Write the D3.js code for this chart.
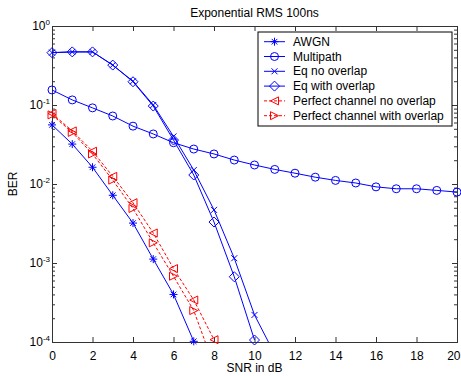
<!DOCTYPE html>
<html>
<head>
<meta charset="utf-8">
<script src="https://d3js.org/d3.v7.min.js"></script>
<style>
  body { margin: 0; background: #fff; }
  text { font-family: Arial, "Liberation Sans", sans-serif; fill: #000; }
</style>
</head>
<body>
<div id="chart"></div>
<script>

// SNR values (dB)
var snr = d3.range(0, 21);

// BER curves
var awgn = [0.056, 0.032, 0.0163, 0.0072, 0.0032, 0.00112, 0.0004, 0.000102];
var multipath = [0.155, 0.116, 0.092, 0.0726, 0.054, 0.043, 0.0333, 0.0277, 0.024, 0.0201, 0.0174,
                 0.0153, 0.0137, 0.0122, 0.0111, 0.0103, 0.0092, 0.0087, 0.0087, 0.0083, 0.0079];
var eqNoOverlap = [0.46, 0.47, 0.47, 0.32, 0.2, 0.1, 0.04, 0.015, 0.0047, 0.00115, 0.00022, 0.00007];
var eqWithOverlap = [0.46, 0.47, 0.47, 0.32, 0.197, 0.097, 0.036, 0.013, 0.0033, 0.00067, 0.000106];
var perfNoOverlap = [0.078, 0.047, 0.026, 0.0125, 0.0058, 0.0024, 0.00085, 0.00034, 0.000107];
var perfWithOverlap = [0.075, 0.045, 0.024, 0.0112, 0.0049, 0.0018, 0.00068, 0.00025, 0.00005];

var xTicks = [0, 2, 4, 6, 8, 10, 12, 14, 16, 18, 20];
var yExps = [0, -1, -2, -3, -4];

var seriesNames = ["AWGN", "Multipath", "Eq no overlap", "Eq with overlap",
                   "Perfect channel no overlap", "Perfect channel with overlap"];
var seriesValues = [awgn, multipath, eqNoOverlap, eqWithOverlap, perfNoOverlap, perfWithOverlap];
var seriesColors = ["#0000ff", "#0000ff", "#0000ff", "#0000ff", "#ff0000", "#ff0000"];
var seriesDash = [null, null, null, null, "3,2", "3,2"];
var seriesMarker = ["star", "circle", "x", "diamond", "tri-left", "tri-right"];

var width = 461, height = 376;
var margin = {top: 26, right: 4, bottom: 34, left: 52};
var w = width - margin.left - margin.right;
var h = height - margin.top - margin.bottom;
var fontSize = 12;

var svg = d3.select("#chart").append("svg")
    .attr("width", width)
    .attr("height", height);

svg.append("rect").attr("width", width).attr("height", height).attr("fill", "#fff");

var x = d3.scaleLinear().domain([0, 20]).range([0, w]);
var y = d3.scaleLog().domain([1e-4, 1]).range([h, 0]);

var g = svg.append("g").attr("transform", "translate(" + margin.left + "," + margin.top + ")");

svg.append("defs").append("clipPath").attr("id", "clip")
  .append("rect").attr("width", w).attr("height", h);

// axes (ticks drawn inward, box on all four sides)
var axisColor = "#333";
var majorLen = 5, minorLen = 3;

var xAxisB = d3.axisBottom(x).tickValues(xTicks).tickSize(-majorLen).tickPadding(majorLen + 4);
var gxb = g.append("g").attr("transform", "translate(0," + h + ")").call(xAxisB);
g.append("g").call(d3.axisTop(x).tickValues(xTicks).tickSize(-majorLen).tickFormat(""));

var minorVals = [];
yExps.forEach(function(e) {
  if (e < 0) {
    for (var k = 2; k <= 9; k++) minorVals.push(k * Math.pow(10, e));
  }
});
var majorVals = yExps.map(function(e) { return Math.pow(10, e); });

g.append("g").call(d3.axisLeft(y).tickValues(majorVals).tickSize(-majorLen).tickFormat(""));
g.append("g").attr("transform", "translate(" + w + ",0)")
    .call(d3.axisRight(y).tickValues(majorVals).tickSize(-majorLen).tickFormat(""));
g.append("g").call(d3.axisLeft(y).tickValues(minorVals).tickSize(-minorLen).tickFormat(""));
g.append("g").attr("transform", "translate(" + w + ",0)")
    .call(d3.axisRight(y).tickValues(minorVals).tickSize(-minorLen).tickFormat(""));

g.selectAll(".domain").attr("stroke", axisColor);
g.selectAll(".tick line").attr("stroke", axisColor);
gxb.selectAll(".tick text").attr("font-size", fontSize).attr("font-family", "Arial, 'Liberation Sans', sans-serif")
    .attr("fill", "#000");
// last label sits at the right edge, keep it inside the window
gxb.selectAll(".tick text").filter(function(d) { return d === 20; })
    .attr("text-anchor", "end").attr("dx", 3);

// y tick labels with superscript exponents
var ylab = g.append("g").selectAll("text").data(yExps).enter().append("text")
    .attr("x", -2)
    .attr("y", function(d) { return y(Math.pow(10, d)) + 4; })
    .attr("text-anchor", "end")
    .attr("font-size", fontSize);
ylab.append("tspan").text("10");
ylab.append("tspan").attr("dy", -5).attr("font-size", 8).text(function(d) { return d; });

// lines
var line = d3.line()
    .x(function(d) { return x(d[0]); })
    .y(function(d) { return y(d[1]); });

var plot = g.append("g");
var lines = plot.append("g").attr("clip-path", "url(#clip)");

function markerPath(type, s) {
  if (type === "star") {
    var a = s * 0.7;
    return "M" + (-s) + ",0L" + s + ",0M0," + (-s) + "L0," + s +
      "M" + (-a) + "," + (-a) + "L" + a + "," + a + "M" + (-a) + "," + a + "L" + a + "," + (-a);
  }
  if (type === "x") return "M" + (-s) + "," + (-s) + "L" + s + "," + s + "M" + (-s) + "," + s + "L" + s + "," + (-s);
  if (type === "diamond") return "M0," + (-s) + "L" + s + ",0L0," + s + "L" + (-s) + ",0Z";
  if (type === "tri-left") return "M" + (-s) + ",0L" + s + "," + (-s) + "L" + s + "," + s + "Z";
  if (type === "tri-right") return "M" + s + ",0L" + (-s) + "," + (-s) + "L" + (-s) + "," + s + "Z";
  return "";
}
var markerSize = {star: 4, x: 3, diamond: 5, "tri-left": 4, "tri-right": 4, circle: 4};

function drawMarker(sel, type, color) {
  if (type === "circle") {
    sel.append("circle").attr("r", markerSize.circle).attr("fill", "none").attr("stroke", color);
  } else {
    sel.append("path").attr("d", markerPath(type, markerSize[type])).attr("fill", "none").attr("stroke", color);
  }
}

seriesValues.forEach(function(vals, i) {
  var pts = vals.map(function(v, j) { return [snr[j], v]; });
  lines.append("path")
    .datum(pts)
    .attr("d", line)
    .attr("fill", "none")
    .attr("stroke", seriesColors[i])
    .attr("stroke-width", 1)
    .attr("stroke-dasharray", seriesDash[i]);

  var inside = pts.filter(function(p) { return p[1] >= 1e-4 * 0.98; });
  var m = plot.append("g").selectAll("g").data(inside).enter().append("g")
    .attr("transform", function(d) { return "translate(" + x(d[0]) + "," + y(Math.max(d[1], 1e-4)) + ")"; });
  drawMarker(m, seriesMarker[i], seriesColors[i]);
});

// legend
var legX = 258, legY = 32, legW = 194, legH = 94;
var leg = svg.append("g");
leg.append("rect").attr("x", legX).attr("y", legY).attr("width", legW).attr("height", legH)
  .attr("fill", "#fff").attr("stroke", "#000");
seriesNames.forEach(function(name, i) {
  var ly = 41.7 + i * 14.8;
  leg.append("line").attr("x1", 264).attr("x2", 285).attr("y1", ly).attr("y2", ly)
    .attr("stroke", seriesColors[i]).attr("stroke-dasharray", seriesDash[i]);
  drawMarker(leg.append("g").attr("transform", "translate(274.5," + ly + ")"), seriesMarker[i], seriesColors[i]);
  leg.append("text").attr("x", 293).attr("y", ly + 4).attr("font-size", fontSize).text(name);
});

// titles
svg.append("text").attr("x", margin.left + w / 2).attr("y", 17).attr("text-anchor", "middle")
  .attr("font-size", fontSize).text("Exponential RMS 100ns");
svg.append("text").attr("x", margin.left + w / 2).attr("y", 372).attr("text-anchor", "middle")
  .attr("font-size", fontSize).text("SNR in dB");
svg.append("text").attr("transform", "translate(17," + (margin.top + h / 2) + ") rotate(-90)")
  .attr("text-anchor", "middle").attr("font-size", fontSize).text("BER");

</script>
</body>
</html>
